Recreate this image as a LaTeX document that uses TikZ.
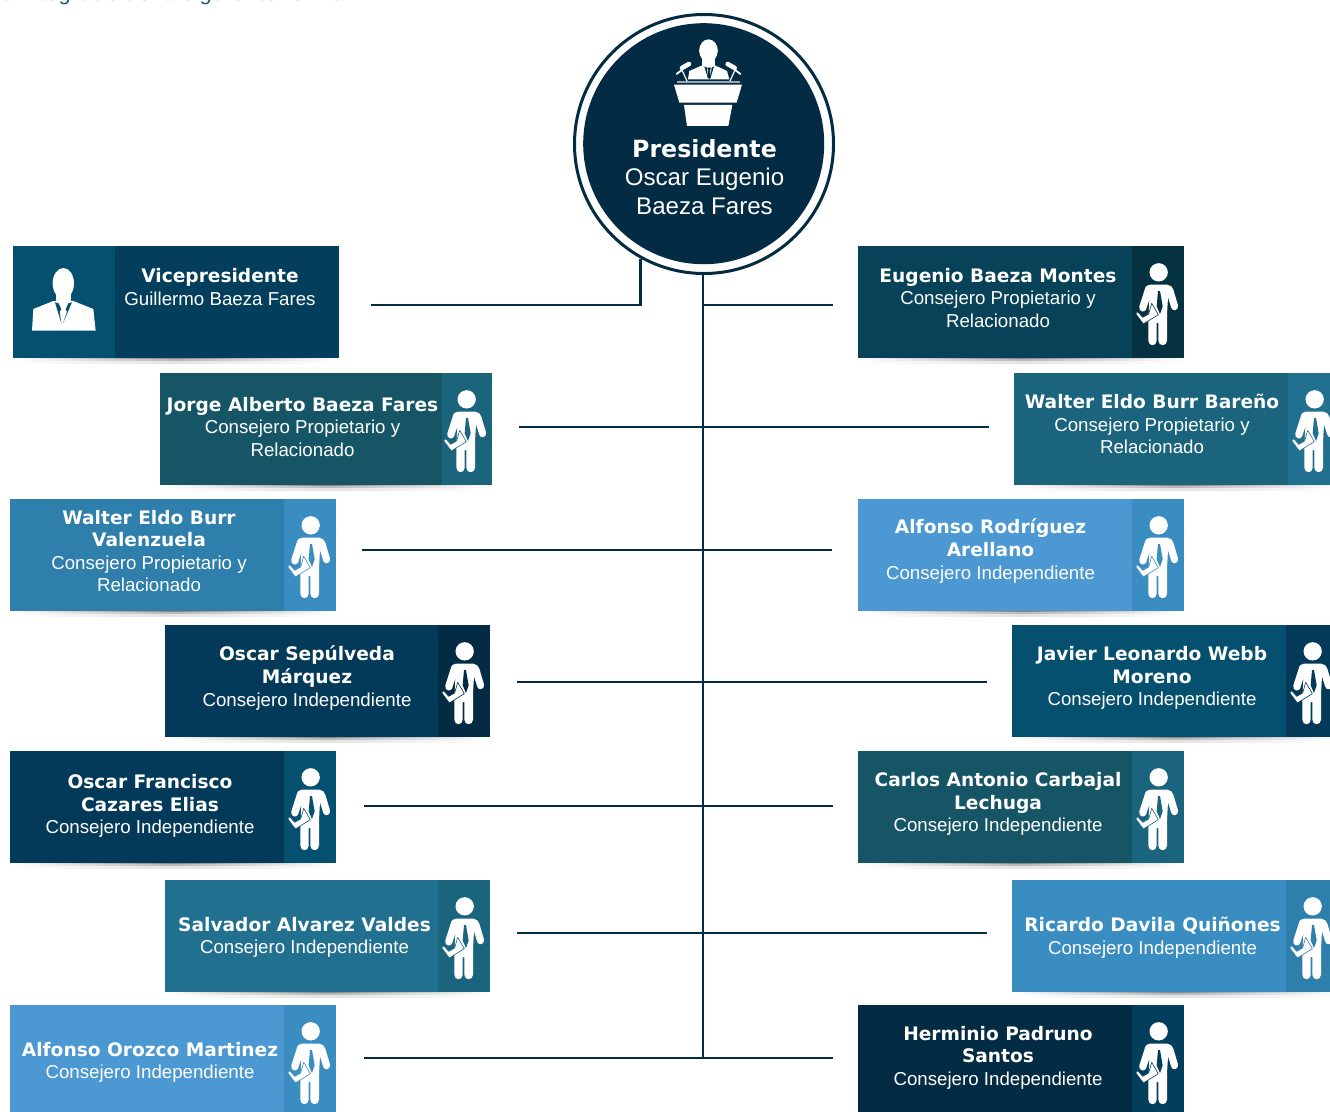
\documentclass[tikz,border=0pt]{standalone}
\usepackage{fontspec}
\setmainfont{Liberation Sans}
\newfontfamily\nmfam{DejaVu Sans}
\newcommand{\nmf}{\nmfam\bfseries\fontsize{18.6}{22}\selectfont}
\newcommand{\subf}{\fontsize{18.7}{22}\selectfont}
\definecolor{navy}{HTML}{032B43}
\definecolor{cA}{HTML}{033F5C}
\definecolor{cB}{HTML}{05506F}
\definecolor{cC}{HTML}{074259}
\definecolor{cD}{HTML}{053240}
\definecolor{cE}{HTML}{155566}
\definecolor{cF}{HTML}{1A647D}
\definecolor{cG}{HTML}{22708F}
\definecolor{cH}{HTML}{2E7FAB}
\definecolor{cI}{HTML}{3A8DC0}
\definecolor{cJ}{HTML}{4B98D3}
\definecolor{cK}{HTML}{043A59}
\definecolor{introcol}{HTML}{1F4E79}
\tikzset{
  cardbg/.style={rectangle,inner sep=0pt,outer sep=0pt,anchor=north west},
  cardtext/.style={inner sep=0pt,outer sep=0pt,text=white,align=center,font=\fontsize{18.7}{22.6}\selectfont},
  conn/.style={draw=navy,line width=2.6pt}
}
% person icon, drawn in the 3x pixel grid
\newcommand{\personicon}[3]{%
  \begin{scope}[shift={(#1,#2)},x=0.3333pt,y=-0.3333pt]
    \fill[white] (86,43) circle (27.5);
    \fill[white] (60,80) -- (112,80) .. controls (122,80) and (127,88) .. (130,95) -- (144,142)
      .. controls (147,157) and (128,162) .. (124,150) -- (114,118) -- (111,170) -- (111,248)
      .. controls (111,266) and (85,266) .. (85,248) -- (85,195) -- (80,195) -- (80,248)
      .. controls (80,266) and (55,266) .. (55,248) -- (55,190) -- (58,125) -- (48,155)
      .. controls (42,166) and (25,160) .. (28,145) -- (44,95) .. controls (46,85) and (52,80) .. (60,80) -- cycle;
    \fill[#3] (84,99) -- (90,99) -- (98,145) -- (90,168) -- (80,145) -- cycle;
    \filldraw[fill=white,draw=#3,line width=0.6pt,line join=round] (65,136) -- (85,170) -- (40,198) -- (17,167) -- (23,161) -- (38,178) -- (56,168) -- cycle;
  \end{scope}}
% card: id, x0, y0, x1, y1, icon x0, icon x1, main colour, icon colour
\newcommand{\cardbox}[9]{%
  \pgfmathsetmacro{\cw}{#4-#2}\pgfmathsetmacro{\ch}{#5-#3}\pgfmathsetmacro{\iw}{#7-#6}%
  \shade[left color=white,right color=white,middle color=black!48] (#2,#5) rectangle (#4,#5+1.8);
  \shade[left color=white,right color=white,middle color=black!28] (#2,#5+1.8) rectangle (#4,#5+3.4);
  \shade[left color=white,right color=white,middle color=black!11] (#2,#5+3.4) rectangle (#4,#5+5);
  \node[cardbg,fill=#8,minimum width=\cw pt,minimum height=\ch pt] (#1) at (#2,#3) {};
  \node[cardbg,fill=#9,minimum width=\iw pt,minimum height=\ch pt] (#1-icon) at (#6,#3) {};
}
\newcommand{\cardperson}[3]{\pgfmathsetmacro{\px}{#1-54}\pgfmathsetmacro{\py}{#2+12}\personicon{\px}{\py}{#3}}
\begin{document}
\begin{tikzpicture}[x=1pt,y=-1pt]
\useasboundingbox (0,0) rectangle (1330,1111);
\clip (0,0) rectangle (1330,1111);
\fill[white] (0,0) rectangle (1330,1111);
\node[anchor=base east,inner sep=0pt,text=introcol,font=\itshape\fontsize{21}{24}\selectfont\addfontfeatures{LetterSpace=6.5}] (intro) at (352,0) {a integrado de la siguiente forma:};

% cards
\cardbox{vp}{13}{246}{339}{358}{13}{115}{cA}{cB}
\cardbox{eugenio}{858}{246}{1184}{358}{1132}{1184}{cC}{cD}
\cardperson{1184}{246}{cD}
\cardbox{jorge}{160}{373}{492}{485}{442}{492}{cE}{cF}
\cardperson{492}{373}{cF}
\cardbox{walterb}{1014}{373}{1340}{485}{1288}{1340}{cF}{cG}
\cardperson{1340}{373}{cG}
\cardbox{walterv}{10}{499}{336}{611}{284}{336}{cH}{cI}
\cardperson{336}{499}{cI}
\cardbox{alfonsor}{858}{499}{1184}{611}{1132}{1184}{cJ}{cI}
\cardperson{1184}{499}{cI}
\cardbox{oscars}{165}{625}{490}{737}{438}{490}{cK}{navy}
\cardperson{490}{625}{navy}
\cardbox{javier}{1012}{625}{1338}{737}{1286}{1338}{cB}{cK}
\cardperson{1338}{625}{cK}
\cardbox{oscarf}{10}{751}{336}{863}{284}{336}{cK}{cB}
\cardperson{336}{751}{cB}
\cardbox{carlos}{858}{751}{1184}{863}{1132}{1184}{cE}{cF}
\cardperson{1184}{751}{cF}
\cardbox{salvador}{165}{880}{490}{992}{438}{490}{cG}{cF}
\cardperson{490}{880}{cF}
\cardbox{ricardo}{1012}{880}{1338}{992}{1286}{1338}{cI}{cH}
\cardperson{1338}{880}{cH}
\cardbox{alfonsoo}{10}{1005}{336}{1117}{284}{336}{cJ}{cI}
\cardperson{336}{1005}{cI}
\cardbox{herminio}{858}{1005}{1184}{1117}{1132}{1184}{navy}{cA}
\cardperson{1184}{1005}{cA}

% card texts
\node[cardtext] (vp-t) at (220,287) {{\nmf Vicepresidente}\\{\subf Guillermo Baeza Fares}};
\node[cardtext] (eugenio-t) at (998,298) {{\nmf Eugenio Baeza Montes}\\{\subf Consejero Propietario y}\\{\subf Relacionado}};
\node[cardtext] (jorge-t) at (302.5,427) {{\nmf Jorge Alberto Baeza Fares}\\{\subf Consejero Propietario y}\\{\subf Relacionado}};
\node[cardtext] (walterb-t) at (1152,424) {{\nmf Walter Eldo Burr Bareño}\\{\subf Consejero Propietario y}\\{\subf Relacionado}};
\node[cardtext] (walterv-t) at (149,551) {{\nmf Walter Eldo Burr}\\{\nmf Valenzuela}\\{\subf Consejero Propietario y}\\{\subf Relacionado}};
\node[cardtext] (alfonsor-t) at (990.5,551) {{\nmf Alfonso Rodríguez}\\{\nmf Arellano}\\{\subf Consejero Independiente}};
\node[cardtext] (oscars-t) at (307,678) {{\nmf Oscar Sepúlveda}\\{\nmf Márquez}\\{\subf Consejero Independiente}};
\node[cardtext] (javier-t) at (1152,678) {{\nmf Javier Leonardo Webb}\\{\nmf Moreno}\\{\subf Consejero Independiente}};
\node[cardtext] (oscarf-t) at (150,806) {{\nmf Oscar Francisco}\\{\nmf Cazares Elias}\\{\subf Consejero Independiente}};
\node[cardtext] (carlos-t) at (998,804) {{\nmf Carlos Antonio Carbajal}\\{\nmf Lechuga}\\{\subf Consejero Independiente}};
\node[cardtext] (salvador-t) at (304.5,937.5) {{\nmf Salvador Alvarez Valdes}\\{\subf Consejero Independiente}};
\node[cardtext] (ricardo-t) at (1152.5,937.5) {{\nmf Ricardo Davila Quiñones}\\{\subf Consejero Independiente}};
\node[cardtext] (alfonsoo-t) at (150,1062.5) {{\nmf Alfonso Orozco Martinez}\\{\subf Consejero Independiente}};
\node[cardtext] (herminio-t) at (998,1057.5) {{\nmf Herminio Padruno}\\{\nmf Santos}\\{\subf Consejero Independiente}};

% president
\node[circle,draw=navy,line width=3pt,fill=white,minimum size=259pt,inner sep=0pt] (pres) at (704,144) {};
\node[circle,fill=navy,minimum size=241pt,inner sep=0pt] (presin) at (703.7,143.7) {};
\node[inner sep=0pt,text=white,align=center,font=\fontsize{24.1}{28.8}\selectfont] (pres-t) at (704.5,177)
  {{\nmfam\bfseries\fontsize{23.7}{28.8}\selectfont Presidente}\\Oscar Eugenio\\Baeza Fares};

% podium icon
\begin{scope}[shift={(560,0)},x=0.3333pt,y=-0.3333pt]
  \fill[white] (445.5,152) ellipse [x radius=28,y radius=34];
  \fill[white] (425,170) rectangle (466,205);
  \fill[white] (384,238) -- (388,213) -- (424,197) -- (467,197) -- (501,213) -- (508,238) -- cycle;
  \fill[navy] (433,199) -- (441,203) -- (444,236) -- cycle;
  \fill[navy] (462,199) -- (455,203) -- (451,236) -- cycle;
  \fill[navy] (442,203) -- (453,203) -- (450,212) -- (453,231) -- (448,238) -- (443,231) -- (445,212) -- cycle;
  \fill[white!60!navy] (350,243) -- (540,243) -- (540,249) -- (350,249) -- cycle;
  \fill[white] (342,254) -- (546,254) -- (530,308) -- (358,308) -- cycle;
  \fill[white] (372,315) -- (517,315) -- (505,378) -- (381,378) -- cycle;
  \draw[white,line width=1.8pt,line cap=round] (350,222) -- (368,208);
  \draw[white,line width=4.6pt,line cap=round] (366,204) -- (387,192);
  \draw[white,line width=1.2pt] (366,210) -- (381,243);
  \draw[white,line width=1.8pt,line cap=round] (541,222) -- (523,208);
  \draw[white,line width=4.6pt,line cap=round] (524,204) -- (503,192);
  \draw[white,line width=1.2pt] (525,210) -- (510,243);
\end{scope}

% suit icon of the vice-president
\begin{scope}[shift={(0,240)},x=0.3333pt,y=-0.3333pt]
  \fill[white] (190,130) ellipse [x radius=32,y radius=46];
  \fill[white] (168,150) rectangle (212,195);
  \fill[white] (96,272) -- (100,207) -- (160,183) -- (220,183) -- (280,207) -- (287,272) -- cycle;
  \fill[cB] (165,187) -- (176,190) -- (184,208) -- (179,215) -- (184,250) -- cycle;
  \fill[cB] (216,187) -- (205,190) -- (197,208) -- (201,215) -- (189,250) -- cycle;
\end{scope}

% connectors
\coordinate (vpend) at (371,305);
\coordinate (eugend) at (833,305);
\coordinate (spineend) at (703,1058);
\coordinate (l1a) at (519,427);  \coordinate (l1b) at (989,427);
\coordinate (l2a) at (362,550);  \coordinate (l2b) at (832,550);
\coordinate (l3a) at (517,682);  \coordinate (l3b) at (987,682);
\coordinate (l4a) at (364,806);  \coordinate (l4b) at (833,806);
\coordinate (l5a) at (517,933);  \coordinate (l5b) at (987,933);
\coordinate (l6a) at (364,1058); \coordinate (l6b) at (833,1058);
\draw[conn] (spineend |- pres.south) -- (spineend);
\draw[conn] (pres.-119) |- (vpend);
\draw[conn] (spineend |- eugend) -- (eugend);
\draw[conn] (l1a) -- (l1b);
\draw[conn] (l2a) -- (l2b);
\draw[conn] (l3a) -- (l3b);
\draw[conn] (l4a) -- (l4b);
\draw[conn] (l5a) -- (l5b);
\draw[conn] (l6a) -- (l6b);
\end{tikzpicture}
\end{document}
